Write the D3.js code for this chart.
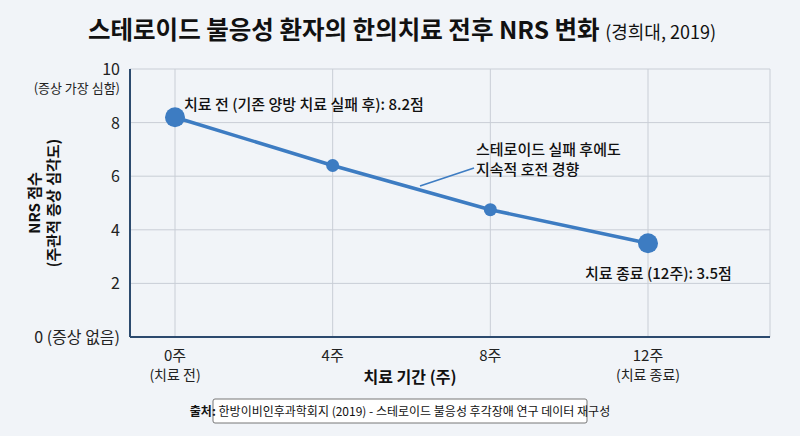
<!DOCTYPE html>
<html><head><meta charset="utf-8">
<script src="https://cdn.jsdelivr.net/npm/d3@7"></script>
<style>body{margin:0;background:#f1f4f8;font-family:"Noto Sans CJK KR","Noto Sans",sans-serif}</style>
</head><body>
<svg id="chart" width="800" height="436"></svg>
<script>
const weeks = [0, 4, 8, 12];
const nrs = [8.2, 6.4, 4.75, 3.5];
const xLabels = ["0주", "4주", "8주", "12주"];
const xSubLabels = ["(치료 전)", "", "", "(치료 종료)"];
const yTicks = [0, 2, 4, 6, 8, 10];

const svg = d3.select("#chart");
svg.append("rect").attr("width", 800).attr("height", 436).attr("fill", "#f1f4f8");

const x = d3.scaleLinear().domain([0, 12]).range([175, 648]);
const y = d3.scaleLinear().domain([0, 10]).range([337, 69]);
const left = 130, right = 770;

// title
const t = svg.append("text").attr("x", 402).attr("y", 39).attr("text-anchor", "middle").attr("fill", "#111");
t.append("tspan").attr("font-size", 24.5).attr("font-weight", "bold").text("스테로이드 불응성 환자의 한의치료 전후 NRS 변화 ");
t.append("tspan").attr("font-size", 18).text("(경희대, 2019)");

// grid
const g = svg.append("g");
g.selectAll(".hg").data(yTicks.slice(1, 5)).join("line")
  .attr("x1", left).attr("x2", right).attr("y1", d => y(d)).attr("y2", d => y(d))
  .attr("stroke", "#c9ced6").attr("stroke-width", 1);
g.selectAll(".vg").data(weeks).join("line")
  .attr("x1", d => x(d)).attr("x2", d => x(d)).attr("y1", y(10)).attr("y2", y(0))
  .attr("stroke", "#c9ced6").attr("stroke-width", 1);
g.append("line").attr("x1", left).attr("x2", right).attr("y1", y(10)).attr("y2", y(10)).attr("stroke", "#c9ced6");
g.append("line").attr("x1", right).attr("x2", right).attr("y1", y(10)).attr("y2", y(0)).attr("stroke", "#c9ced6");
// axes
g.append("line").attr("x1", left).attr("x2", left).attr("y1", y(10)).attr("y2", y(0)).attr("stroke", "#2c4a6e").attr("stroke-width", 2);
g.append("line").attr("x1", left).attr("x2", right).attr("y1", y(0)).attr("y2", y(0)).attr("stroke", "#2c4a6e").attr("stroke-width", 2);

// y tick labels
g.selectAll(".yt").data(yTicks).join("text")
  .attr("x", left - 10).attr("y", d => y(d) + 6).attr("text-anchor", "end")
  .attr("font-size", 16).attr("fill", "#222")
  .text(d => d === 0 ? "0 (증상 없음)" : d);
g.append("text").attr("x", left - 10).attr("y", y(10) + 24).attr("text-anchor", "end")
  .attr("font-size", 13).attr("fill", "#222").text("(증상 가장 심함)");

// y title
const yt = svg.append("text").attr("transform", "translate(40,203) rotate(-90)").attr("text-anchor", "middle")
  .attr("font-size", 15).attr("font-weight", "bold").attr("fill", "#111");
yt.append("tspan").attr("x", 0).attr("dy", 0).text("NRS 점수");
yt.append("tspan").attr("x", 0).attr("dy", 19).text("(주관적 증상 심각도)");

// x labels
g.selectAll(".xt").data(weeks).join("text")
  .attr("x", d => x(d)).attr("y", 361).attr("text-anchor", "middle")
  .attr("font-size", 15).attr("fill", "#222").text((d, i) => xLabels[i]);
g.selectAll(".xs").data(weeks).join("text")
  .attr("x", d => x(d)).attr("y", 380).attr("text-anchor", "middle")
  .attr("font-size", 14).attr("fill", "#222").text((d, i) => xSubLabels[i]);
svg.append("text").attr("x", 410).attr("y", 383).attr("text-anchor", "middle")
  .attr("font-size", 16).attr("font-weight", "bold").attr("fill", "#111").text("치료 기간 (주)");

// line
const pts = weeks.map((w, i) => [w, nrs[i]]);
svg.append("path").datum(pts)
  .attr("d", d3.line().x(d => x(d[0])).y(d => y(d[1])))
  .attr("fill", "none").attr("stroke", "#3d7cc2").attr("stroke-width", 3.5);
svg.selectAll(".pt").data(pts).join("circle")
  .attr("cx", d => x(d[0])).attr("cy", d => y(d[1]))
  .attr("r", (d, i) => (i === 0 || i === pts.length - 1) ? 10 : 6.5)
  .attr("fill", "#3d7cc2");

// annotations
svg.append("text").attr("x", 184).attr("y", 110).attr("font-size", 15).attr("font-weight", 500).attr("fill", "#111")
  .text("치료 전 (기존 양방 치료 실패 후): 8.2점");
svg.append("text").attr("x", 585).attr("y", 279).attr("font-size", 15).attr("font-weight", 500).attr("fill", "#111")
  .text("치료 종료 (12주): 3.5점");
const an = svg.append("text").attr("font-size", 15).attr("font-weight", 500).attr("fill", "#111");
an.append("tspan").attr("x", 476).attr("y", 155).text("스테로이드 실패 후에도");
an.append("tspan").attr("x", 476).attr("y", 175).text("지속적 호전 경향");
svg.append("line").attr("x1", 474).attr("y1", 168).attr("x2", 420).attr("y2", 186).attr("stroke", "#3d7cc2").attr("stroke-width", 1.5);

// source box
svg.append("rect").attr("x", 213).attr("y", 399).attr("width", 374).attr("height", 24)
  .attr("fill", "#fff").attr("stroke", "#777").attr("rx", 2);
const s = svg.append("text").attr("x", 400).attr("y", 416).attr("text-anchor", "middle").attr("font-size", 12).attr("fill", "#111");
s.append("tspan").attr("font-weight", "bold").text("출처: ");
s.append("tspan").text("한방이비인후과학회지 (2019) - 스테로이드 불응성 후각장애 연구 데이터 재구성");
</script>
</body></html>
